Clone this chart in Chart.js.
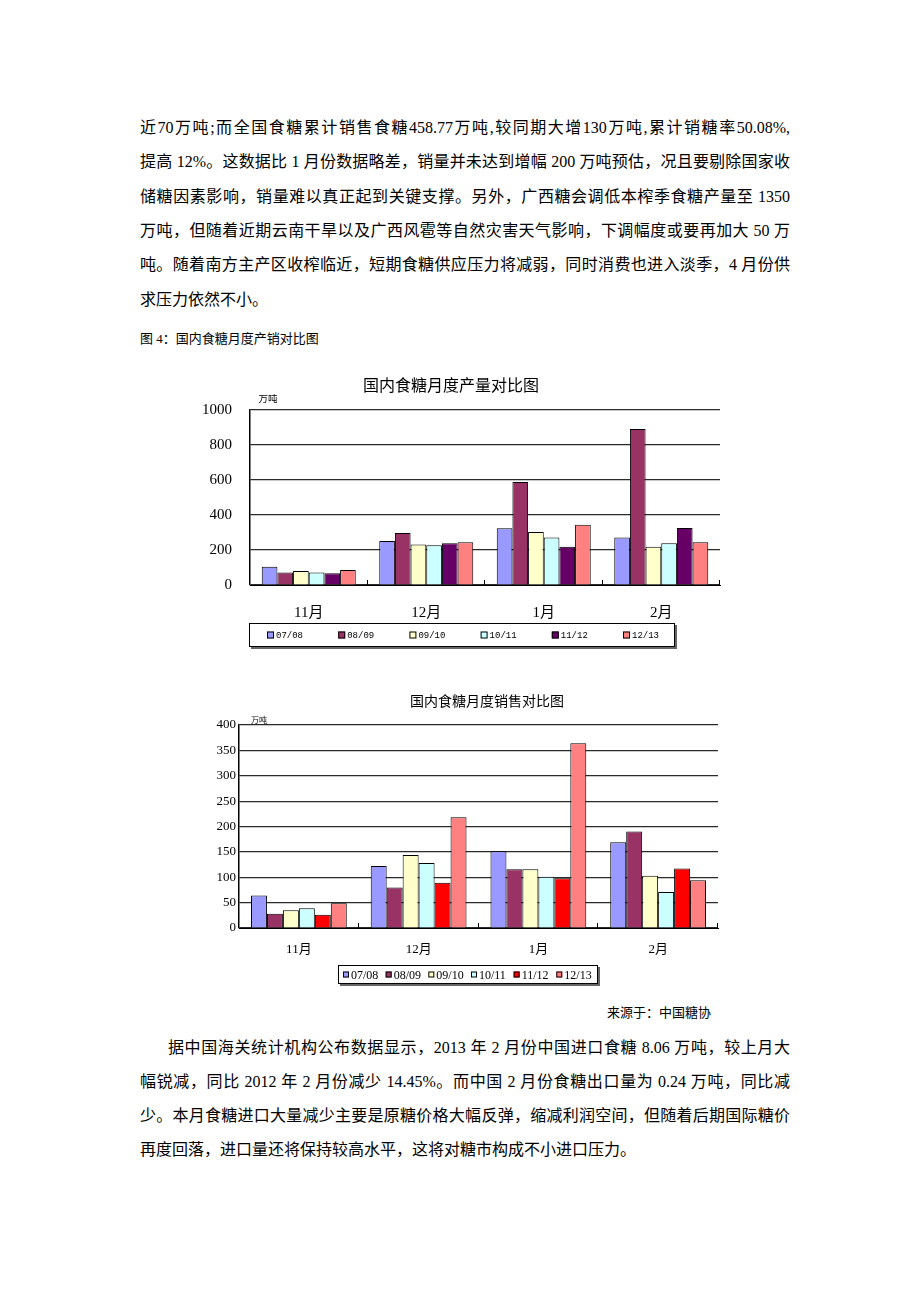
<!DOCTYPE html>
<html>
<head>
<meta charset="utf-8">
<script src="https://cdn.jsdelivr.net/npm/chart.js@4.4.0/dist/chart.umd.min.js"></script>
<style>
  body { margin: 0; background: #fff; width: 920px; height: 1302px; position: relative; overflow: hidden;
         font-family: "Liberation Serif", "Noto Sans CJK SC", serif; color: #000; }
  .ln { position: absolute; left: 140px; width: 650px; height: 22px; line-height: 22px; font-size: 16px; }
  .j { text-align: justify; text-align-last: justify; }
  .small { position: absolute; font-size: 13px; line-height: 16px; }
  canvas { position: absolute; }
</style>
</head>
<body>
<div class="ln j" style="top:117px">近70万吨;而全国食糖累计销售食糖458.77万吨,较同期大增130万吨,累计销糖率50.08%,</div>
<div class="ln j" style="top:151px">提高 12%。这数据比 1 月份数据略差，销量并未达到增幅 200 万吨预估，况且要剔除国家收</div>
<div class="ln j" style="top:186px">储糖因素影响，销量难以真正起到关键支撑。另外，广西糖会调低本榨季食糖产量至 1350</div>
<div class="ln j" style="top:220px">万吨，但随着近期云南干旱以及广西风雹等自然灾害天气影响，下调幅度或要再加大 50 万</div>
<div class="ln j" style="top:254px">吨。随着南方主产区收榨临近，短期食糖供应压力将减弱，同时消费也进入淡季，4 月份供</div>
<div class="ln" style="top:289px">求压力依然不小。</div>
<div class="small" style="left:140px;top:331px">图 4：国内食糖月度产销对比图</div>

<canvas id="prod-chart" width="544" height="290" style="left:190px;top:370px"></canvas>
<canvas id="sales-chart" width="536" height="320" style="left:200px;top:680px"></canvas>

<div class="small" style="left:607px;top:1005px">来源于：中国糖协</div>
<div class="ln j" style="top:1037px;left:168px;width:622px">据中国海关统计机构公布数据显示，2013 年 2 月份中国进口食糖 8.06 万吨，较上月大</div>
<div class="ln j" style="top:1071px">幅锐减，同比 2012 年 2 月份减少 14.45%。而中国 2 月份食糖出口量为 0.24 万吨，同比减</div>
<div class="ln j" style="top:1105px">少。本月食糖进口大量减少主要是原糖价格大幅反弹，缩减利润空间，但随着后期国际糖价</div>
<div class="ln" style="top:1139px">再度回落，进口量还将保持较高水平，这将对糖市构成不小进口压力。</div>

<script>
const months = ['11月', '12月', '1月', '2月'];
const seasons = ['07/08', '08/09', '09/10', '10/11', '11/12', '12/13'];

// 产量 (万吨)
const prod0708 = [105, 251, 324, 272];
const prod0809 = [72, 297, 589, 891];
const prod0910 = [80, 232, 303, 219];
const prod1011 = [72, 227, 272, 238];
const prod1112 = [67, 238, 219, 326];
const prod1213 = [86, 244, 345, 244];

// 销售 (万吨)
const sales0708 = [64, 122, 151, 169];
const sales0809 = [28, 80, 116, 190];
const sales0910 = [35, 144, 116, 103];
const sales1011 = [39, 128, 101, 71];
const sales1112 = [26, 89, 98, 117];
const sales1213 = [49, 218, 364, 94];

const prodTicks = [0, 200, 400, 600, 800, 1000];
const salesTicks = [0, 50, 100, 150, 200, 250, 300, 350, 400];

const prodColors = ['#9999FF', '#993366', '#FFFFCC', '#CCFFFF', '#660066', '#FF8080'];
const salesColors = ['#9999FF', '#993366', '#FFFFCC', '#CCFFFF', '#FF0000', '#FF8080'];

Chart.defaults.font.family = '"Liberation Serif", "Noto Sans CJK SC", serif';
Chart.defaults.color = '#000';

// titles, unit label, boxed legend and inward category ticks
const decor = {
    id: 'decor',
    afterDraw(chart, args, opts) {
        const ctx = chart.ctx;
        const area = chart.chartArea;
        ctx.save();
        ctx.fillStyle = '#000';
        ctx.textBaseline = 'middle';
        opts.texts.forEach(t => {
            ctx.font = t.font;
            ctx.textAlign = 'center';
            ctx.fillText(t.text, t.x, t.y);
        });

        // category boundary ticks
        const step = (area.right - area.left) / months.length;
        ctx.strokeStyle = '#000';
        ctx.lineWidth = 1;
        for (let i = 1; i <= months.length; i++) {
            const x = Math.round(area.left + step * i) - 0.5;
            ctx.beginPath();
            ctx.moveTo(x, area.bottom);
            ctx.lineTo(x, area.bottom - 5);
            ctx.stroke();
        }

        // legend
        const lg = opts.legend;
        ctx.fillStyle = '#666';
        ctx.fillRect(lg.left + 2, lg.top + lg.height, lg.width, 2);
        ctx.fillRect(lg.left + lg.width, lg.top + 2, 2, lg.height);
        ctx.fillStyle = '#fff';
        ctx.fillRect(lg.left, lg.top, lg.width, lg.height);
        ctx.strokeStyle = '#000';
        ctx.strokeRect(lg.left + 0.5, lg.top + 0.5, lg.width - 1, lg.height - 1);
        const cy = lg.top + lg.height / 2;
        ctx.font = lg.font;
        ctx.textAlign = 'left';
        chart.data.datasets.forEach((ds, i) => {
            const x = lg.firstX + i * lg.step;
            ctx.fillStyle = ds.backgroundColor;
            ctx.fillRect(x, cy - lg.box / 2, lg.box, lg.box);
            ctx.strokeStyle = '#000';
            ctx.strokeRect(x + 0.5, cy - lg.box / 2 + 0.5, lg.box - 1, lg.box - 1);
            ctx.fillStyle = '#000';
            ctx.fillText(ds.label, x + lg.box + 2, cy + 1);
        });
        ctx.restore();
    }
};

function makeDatasets(series, colors) {
    return series.map((data, i) => ({
        label: seasons[i],
        data: data,
        backgroundColor: colors[i],
        borderColor: '#000',
        borderWidth: 1,
        categoryPercentage: 0.8,
        barPercentage: 1.0
    }));
}

function makeChart(id, cfg) {
    const ctx = document.getElementById(id).getContext('2d');
    return new Chart(ctx, {
        type: 'bar',
        data: {
            labels: months,
            datasets: makeDatasets(cfg.series, cfg.colors)
        },
        options: {
            responsive: false,
            animation: false,
            layout: { padding: cfg.padding },
            plugins: {
                legend: { display: false },
                tooltip: { enabled: false },
                decor: { texts: cfg.texts, legend: cfg.legend }
            },
            scales: {
                x: {
                    grid: { display: false },
                    border: { display: true, color: '#000', width: 1 },
                    ticks: { font: cfg.xFont, padding: cfg.xPad },
                    afterFit: s => { s.height = cfg.xHeight; }
                },
                y: {
                    min: 0,
                    max: cfg.ticks[cfg.ticks.length - 1],
                    afterBuildTicks: s => { s.ticks = cfg.ticks.map(v => ({ value: v })); },
                    grid: { color: '#2a2a2a', lineWidth: 1.2, drawTicks: false },
                    border: { display: true, color: '#000', width: 1.5 },
                    ticks: { font: cfg.yFont, padding: cfg.yPad, callback: v => String(v) },
                    afterFit: s => { s.width = cfg.yWidth; }
                }
            }
        },
        plugins: [decor]
    });
}

makeChart('prod-chart', {
    series: [prod0708, prod0809, prod0910, prod1011, prod1112, prod1213],
    colors: prodColors,
    ticks: prodTicks,
    padding: { top: 40, right: 14, left: 0, bottom: 0 },
    yWidth: 60, yPad: 18, yFont: { size: 15 },
    xHeight: 75, xPad: 11, xFont: { size: 15 },
    texts: [
        { text: '国内食糖月度产量对比图', x: 261, y: 17, font: '16px "Liberation Serif", "Noto Sans CJK SC"' },
        { text: '万吨', x: 78, y: 29, font: '9.5px "Liberation Serif", "Noto Sans CJK SC"' }
    ],
    legend: { left: 59, top: 253, width: 426, height: 24, firstX: 77, step: 71.2, box: 7,
              font: '9px "Liberation Mono", monospace' }
});

makeChart('sales-chart', {
    series: [sales0708, sales0809, sales0910, sales1011, sales1112, sales1213],
    colors: salesColors,
    ticks: salesTicks,
    padding: { top: 45, right: 18, left: 0, bottom: 0 },
    yWidth: 39, yPad: 3, yFont: { size: 13, family: '"Liberation Sans Narrow", "Liberation Serif"' },
    xHeight: 72, xPad: 6, xFont: { size: 13, family: '"Liberation Sans Narrow", "Liberation Serif", "Noto Sans CJK SC"' },
    texts: [
        { text: '国内食糖月度销售对比图', x: 287, y: 22, font: '14px "Liberation Serif", "Noto Sans CJK SC"' },
        { text: '万吨', x: 59, y: 41, font: '8px "Liberation Serif", "Noto Sans CJK SC"' }
    ],
    legend: { left: 138, top: 285, width: 260, height: 19, firstX: 143, step: 42.66, box: 6,
              font: '12px "Liberation Sans Narrow", "Liberation Serif"' }
});
</script>
</body>
</html>
